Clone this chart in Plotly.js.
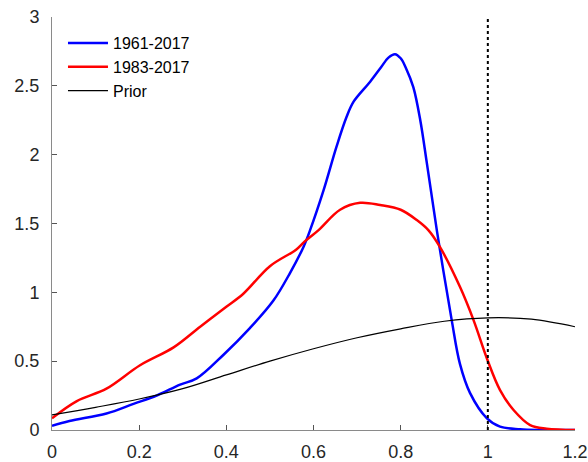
<!DOCTYPE html>
<html>
<head>
<meta charset="utf-8">
<script src="https://cdn.plot.ly/plotly-3.0.1.min.js"></script>
<style>html,body{margin:0;padding:0;background:#fff;}#chart{width:588px;height:462px;}</style>
</head>
<body>
<div id="chart"></div>
<script>
// Series 1961-2017 (blue)
const blueX = [0, 0.04, 0.125, 0.187, 0.24, 0.294, 0.332, 0.393, 0.454, 0.508, 0.546, 0.577, 0.592, 0.623, 0.653, 0.676, 0.692, 0.73, 0.755, 0.772, 0.787, 0.80, 0.812, 0.829, 0.845, 0.86, 0.883, 0.917, 0.936, 0.959, 0.998, 1.028, 1.074, 1.12, 1.2];
const blueY = [0.03, 0.065, 0.12, 0.19, 0.25, 0.33, 0.375, 0.545, 0.74, 0.94, 1.14, 1.33, 1.45, 1.74, 2.06, 2.275, 2.385, 2.53, 2.635, 2.705, 2.73, 2.70, 2.63, 2.49, 2.25, 1.94, 1.45, 0.80, 0.48, 0.27, 0.085, 0.024, 0.005, 0.0, 0.0];
// Series 1983-2017 (red)
const redX = [0, 0.057, 0.125, 0.202, 0.279, 0.34, 0.40, 0.439, 0.50, 0.56, 0.58, 0.611, 0.661, 0.707, 0.753, 0.80, 0.837, 0.864, 0.89, 0.936, 0.967, 0.999, 1.028, 1.059, 1.097, 1.135, 1.2];
const redY = [0.085, 0.21, 0.30, 0.47, 0.60, 0.75, 0.895, 0.99, 1.19, 1.31, 1.37, 1.45, 1.60, 1.65, 1.634, 1.60, 1.525, 1.45, 1.33, 1.04, 0.80, 0.51, 0.29, 0.145, 0.036, 0.01, 0.0];
// Prior (black)
const priorX = [0, 0.1, 0.2, 0.3, 0.4, 0.5, 0.6, 0.7, 0.8, 0.9, 1.0, 1.1, 1.2];
const priorY = [0.11, 0.165, 0.225, 0.30, 0.40, 0.50, 0.59, 0.67, 0.735, 0.79, 0.815, 0.805, 0.75];
const seriesNames = ['1961-2017', '1983-2017', 'Prior'];
const xTicks = [0, 0.2, 0.4, 0.6, 0.8, 1, 1.2];
const yTicks = [0, 0.5, 1, 1.5, 2, 2.5, 3];
const refLineX = 1;

const traces = [
  {x: blueX, y: blueY, name: seriesNames[0], mode: 'lines', line: {color: '#0000ff', width: 2.5, shape: 'spline', smoothing: 1}},
  {x: redX, y: redY, name: seriesNames[1], mode: 'lines', line: {color: '#ff0000', width: 2.5, shape: 'spline', smoothing: 1}},
  {x: priorX, y: priorY, name: seriesNames[2], mode: 'lines', line: {color: '#000000', width: 1.2, shape: 'spline'}}
];

const axisCommon = {
  showgrid: false, zeroline: false, showline: true, linecolor: '#8a8a8a', linewidth: 1,
  ticks: 'inside', ticklen: 5, tickcolor: '#555', tickwidth: 1,
  tickfont: {family: 'Liberation Sans, Arial, sans-serif', size: 18, color: '#262626'},
  mirror: false, automargin: false
};

const layout = {
  width: 588, height: 462,
  margin: {l: 52, r: 13, t: 17, b: 32, pad: 0},
  paper_bgcolor: '#fff', plot_bgcolor: '#fff',
  font: {family: 'Liberation Sans, Arial, sans-serif', color: '#000'},
  xaxis: Object.assign({}, axisCommon, {range: [0, 1.2], tickvals: xTicks, ticktext: xTicks.map(String), ticklabelstandoff: 5}),
  yaxis: Object.assign({}, axisCommon, {range: [0, 3], tickvals: yTicks, ticktext: yTicks.map(String), ticklabelstandoff: 8}),
  showlegend: true,
  legend: {x: 0.021, y: 0.978, xanchor: 'left', yanchor: 'top', bgcolor: 'rgba(0,0,0,0)', borderwidth: 0,
           itemwidth: 40,
           font: {family: 'Liberation Sans, Arial, sans-serif', size: 16, color: '#000'}, tracegroupgap: 0},
  shapes: [{type: 'line', xref: 'x', yref: 'y', x0: refLineX, x1: refLineX, y0: 0, y1: 3,
            line: {color: '#000', width: 2, dash: 'dot'}}]
};

Plotly.newPlot('chart', traces, layout, {displayModeBar: false, staticPlot: true});
</script>
</body>
</html>
